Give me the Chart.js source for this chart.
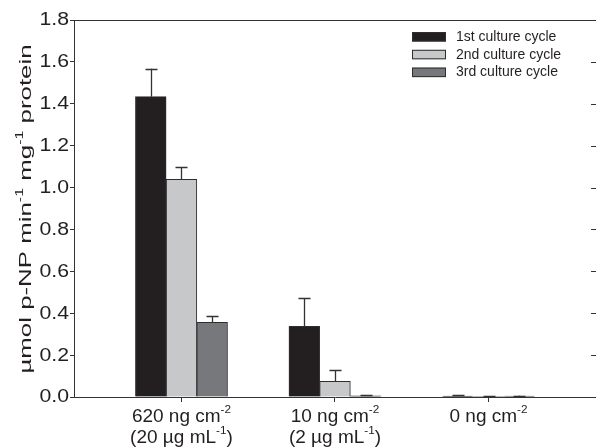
<!DOCTYPE html>
<html>
<head>
<meta charset="utf-8">
<script src="https://cdn.jsdelivr.net/npm/chart.js@4"></script>
<style>
  html, body { margin: 0; padding: 0; background: #ffffff; }
  #wrap { width: 596px; height: 448px; position: relative; }
</style>
</head>
<body>
<div id="wrap"><canvas id="chart"></canvas></div>
<script>
// Nanoparticle exposure levels (text inside ^{...} is drawn as superscript)
const categories = [
  ["620 ng cm^{-2}", "(20 µg mL^{-1})"],
  ["10 ng cm^{-2}", "(2 µg mL^{-1})"],
  ["0 ng cm^{-2}"]
];

const seriesNames = ["1st culture cycle", "2nd culture cycle", "3rd culture cycle"];

// Specific activity, µmol p-NP min-1 mg-1 protein (mean and SD)
const cycle1 = [1.434, 0.338, 0.004];
const cycle1Err = [0.134, 0.133, 0.004];
const cycle2 = [1.039, 0.075, 0.003];
const cycle2Err = [0.058, 0.052, 0.003];
const cycle3 = [0.357, 0.005, 0.004];
const cycle3Err = [0.028, 0.006, 0.003];

const yTicks = [0, 0.2, 0.4, 0.6, 0.8, 1.0, 1.2, 1.4, 1.6, 1.8];
const yTitle = "µmol p-NP min^{-1} mg^{-1} protein";

const fills = ["#231f20", "#c7c8ca", "#77787b"];
const edge = "#2e2e2e";
const FONT = "'Liberation Sans', Arial, Helvetica, sans-serif";
const SUP = 0.62;

function toPoints(values) {
  return values.map((v, i) => ({ x: i, y: v }));
}

// Split "abc^{-1}def" into runs of normal and superscript text
function parseRich(str) {
  const parts = [];
  const re = /\^\{([^}]*)\}/g;
  let last = 0, m;
  while ((m = re.exec(str)) !== null) {
    if (m.index > last) parts.push({ t: str.slice(last, m.index), sup: false });
    parts.push({ t: m[1], sup: true });
    last = re.lastIndex;
  }
  if (last < str.length) parts.push({ t: str.slice(last), sup: false });
  return parts;
}

function richWidth(ctx, parts, size) {
  let w = 0;
  for (const p of parts) {
    ctx.font = (p.sup ? size * SUP : size) + "px " + FONT;
    w += ctx.measureText(p.t).width;
  }
  return w;
}

// Draw rich text centred on cx at baseline y; stretch widens the glyphs along the line
function drawRich(ctx, str, cx, y, size, stretch = 1) {
  const parts = parseRich(str);
  const w = richWidth(ctx, parts, size);
  ctx.save();
  ctx.translate(cx, y);
  ctx.scale(stretch, 1);
  let x = -w / 2;
  ctx.textAlign = "left";
  ctx.textBaseline = "alphabetic";
  for (const p of parts) {
    ctx.font = (p.sup ? size * SUP : size) + "px " + FONT;
    ctx.fillText(p.t, x, p.sup ? -size * 0.47 : 0);
    x += ctx.measureText(p.t).width;
  }
  ctx.restore();
}

const errorSets = [cycle1Err, cycle2Err, cycle3Err];

const decorations = {
  id: "decorations",
  afterDatasetsDraw(chart) {
    const ctx = chart.ctx;
    const ys = chart.scales.y;
    ctx.save();
    ctx.strokeStyle = "#333333";
    ctx.lineWidth = 1.3;
    chart.data.datasets.forEach((ds, di) => {
      const meta = chart.getDatasetMeta(di);
      meta.data.forEach((bar, i) => {
        const v = ds.data[i].y;
        const e = errorSets[di][i];
        const top = ys.getPixelForValue(v + e);
        const x = Math.round(bar.x) + 0.5;
        ctx.beginPath();
        ctx.moveTo(x, bar.y);
        ctx.lineTo(x, top);
        ctx.moveTo(x - 6, Math.round(top) + 0.5);
        ctx.lineTo(x + 6, Math.round(top) + 0.5);
        ctx.stroke();
      });
    });
    ctx.restore();
  },
  afterDraw(chart) {
    const ctx = chart.ctx;
    const a = chart.chartArea;
    const xs = chart.scales.x;
    const ys = chart.scales.y;
    ctx.save();

    // top frame line and inward ticks on the right edge
    ctx.strokeStyle = "#333333";
    ctx.lineWidth = 1;
    ctx.beginPath();
    ctx.moveTo(a.left, Math.round(a.top) + 0.5);
    ctx.lineTo(a.right, Math.round(a.top) + 0.5);
    yTicks.forEach(t => {
      const py = Math.round(ys.getPixelForValue(t)) + 0.5;
      ctx.moveTo(a.right - 5, py);
      ctx.lineTo(a.right, py);
    });
    ctx.stroke();

    ctx.fillStyle = "#231f20";

    // y tick labels, slightly widened
    yTicks.forEach(t => {
      ctx.save();
      ctx.translate(a.left - 5, ys.getPixelForValue(t) + 0.5);
      ctx.scale(1.18, 1);
      ctx.font = "18px " + FONT;
      ctx.textAlign = "right";
      ctx.textBaseline = "middle";
      ctx.fillText(t.toFixed(1), 0, 0);
      ctx.restore();
    });

    // category labels
    categories.forEach((lines, i) => {
      const cx = xs.getPixelForValue(i);
      lines.forEach((ln, k) => drawRich(ctx, ln, cx, 422 + k * 21, 19));
    });

    // y axis title, stretched along its length
    ctx.save();
    ctx.translate(31, 209);
    ctx.rotate(-Math.PI / 2);
    drawRich(ctx, yTitle, 0, 0, 17, 1.52);
    ctx.restore();

    // legend
    chart.data.datasets.forEach((ds, i) => {
      const y = 32 + i * 17.8;
      ctx.fillStyle = ds.backgroundColor;
      ctx.fillRect(412, y, 34, 9.5);
      ctx.strokeStyle = edge;
      ctx.lineWidth = 1;
      ctx.strokeRect(412.5, y + 0.5, 33, 8.5);
      ctx.fillStyle = "#231f20";
      ctx.font = "14px " + FONT;
      ctx.textAlign = "left";
      ctx.textBaseline = "middle";
      ctx.fillText(ds.label, 456, y + 5);
    });
    ctx.restore();
  }
};

const data = {
  datasets: [cycle1, cycle2, cycle3].map((vals, i) => ({
    label: seriesNames[i],
    data: toPoints(vals),
    backgroundColor: fills[i],
    borderColor: edge,
    borderWidth: 1,
    barThickness: 30.7
  }))
};

new Chart(document.getElementById("chart"), {
  type: "bar",
  data,
  plugins: [decorations],
  options: {
    responsive: true,
    maintainAspectRatio: false,
    animation: false,
    layout: { padding: { top: 20, left: 0, right: 0, bottom: 0 } },
    plugins: {
      legend: { display: false },
      tooltip: { enabled: false }
    },
    scales: {
      x: {
        type: "linear",
        offset: false,
        min: -0.7,
        max: 2.7,
        afterBuildTicks: s => { s.ticks = categories.map((c, i) => ({ value: i })); },
        afterFit: s => { s.height = 51; },
        ticks: { display: false },
        grid: { offset: false, drawOnChartArea: false, drawTicks: true, tickLength: 5, color: "#333333" },
        border: { display: true, color: "#333333", width: 1 }
      },
      y: {
        min: 0,
        max: 1.8,
        afterBuildTicks: s => { s.ticks = yTicks.map(v => ({ value: v })); },
        afterFit: s => { s.width = 74; },
        ticks: { display: false },
        grid: { drawOnChartArea: false, drawTicks: true, tickLength: 4, color: "#333333" },
        border: { display: true, color: "#333333", width: 1 }
      }
    }
  }
});
</script>
</body>
</html>
